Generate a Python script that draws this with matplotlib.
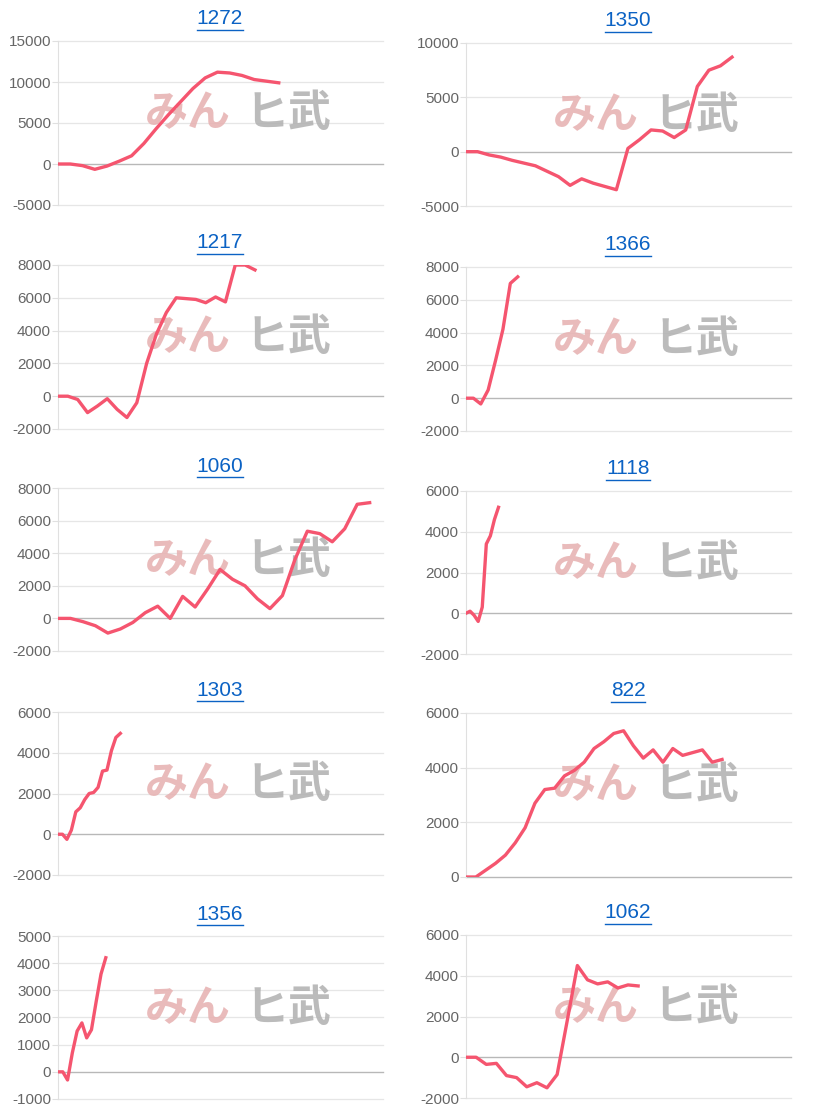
import matplotlib
matplotlib.use("Agg")
import matplotlib.pyplot as plt
from matplotlib.lines import Line2D

plt.rcParams['font.family'] = ['Liberation Sans', 'DejaVu Sans']

titles = ["1272", "1350", "1217", "1366", "1060", "1118", "1303", "822", "1356", "1062"]

v1272 = [0, 0, -200, -650, -250, 350, 1000, 2500, 4300, 6000, 7600, 9200, 10500, 11200, 11100, 10800, 10300, 10100, 9900]
v1350 = [0, 0, -300, -500, -800, -1050, -1300, -1800, -2300, -3100, -2500, -2900, -3200, -3500, 300, 1100, 2000, 1900, 1300, 2000, 6000, 7500, 7900, 8700]
v1217 = [0, 0, -200, -1000, -600, -150, -800, -1300, -400, 2000, 3800, 5100, 6000, 5950, 5900, 5700, 6050, 5750, 8000, 8000, 7700]
v1366 = [0, 0, -350, 500, 2300, 4200, 7000, 7400]
v1060 = [0, 0, -200, -450, -900, -650, -250, 350, 750, 0, 1350, 700, 1800, 3000, 2400, 2000, 1200, 600, 1400, 3600, 5350, 5200, 4700, 5500, 7000, 7100]
v1118 = [0, 100, -100, -400, 300, 3400, 3800, 4600, 5200]
v1303 = [0, 0, -250, 200, 1100, 1300, 1700, 2000, 2050, 2300, 3100, 3150, 4100, 4750, 4950]
v822 = [0, 0, 250, 500, 800, 1250, 1800, 2700, 3200, 3250, 3700, 3900, 4200, 4700, 4950, 5250, 5350, 4800, 4350, 4650, 4200, 4700, 4450, 4550, 4650, 4200, 4300]
v1356 = [0, 0, -300, 700, 1500, 1800, 1250, 1550, 2600, 3600, 4200]
v1062 = [0, 0, -350, -300, -900, -1000, -1450, -1250, -1500, -850, 1800, 4500, 3800, 3600, 3700, 3400, 3550, 3500]

series = [v1272, v1350, v1217, v1366, v1060, v1118, v1303, v822, v1356, v1062]
yticks = [
    [-5000, 0, 5000, 10000, 15000],
    [-5000, 0, 5000, 10000],
    [-2000, 0, 2000, 4000, 6000, 8000],
    [-2000, 0, 2000, 4000, 6000, 8000],
    [-2000, 0, 2000, 4000, 6000, 8000],
    [-2000, 0, 2000, 4000, 6000],
    [-2000, 0, 2000, 4000, 6000],
    [0, 2000, 4000, 6000],
    [-1000, 0, 1000, 2000, 3000, 4000, 5000],
    [-2000, 0, 2000, 4000, 6000],
]
xmax = [26.5, 28.1, 33.0, 44.0, 26.07, 80.0, 73.0, 33.0, 68.0, 32.1]

W, H = 816, 1115
fig = plt.figure(figsize=(W / 100, H / 100), dpi=100)

col_x = [58, 466]
rows = [(41, 205), (265, 429), (488, 651), (712, 875), (936, 1099)]
rows_r = [(43, 206), (267, 431), (491, 654), (713, 877), (935, 1098)]

line_color = '#f5556f'
for i, (t, v) in enumerate(zip(titles, series)):
    r, c = divmod(i, 2)
    top, bot = (rows if c == 0 else rows_r)[r]
    x0 = col_x[c]
    ax = fig.add_axes([x0 / W, 1 - bot / H, 325 / W, (bot - top) / H])
    ax.plot(range(len(v)), v, color=line_color, lw=2.4, solid_joinstyle='round', zorder=3)
    yt = yticks[i]
    ax.set_ylim(yt[0], yt[-1])
    ax.set_xlim(0, xmax[i])
    ax.set_yticks(yt)
    ax.set_yticklabels([str(y) for y in yt], color='#666666', fontsize=11)
    ax.set_xticks([])
    for s in ['top', 'right', 'bottom']:
        ax.spines[s].set_visible(False)
    ax.spines['left'].set_color('#e0e0e0')
    ax.tick_params(axis='y', length=4, color='#e0e0e0', pad=1)
    for y in yt:
        ax.axhline(y, color='#b8b8b8' if y == 0 else '#e6e6e6', lw=1.0 if y == 0 else 0.9, zorder=1, clip_on=False)
    ax.set_facecolor('none')
    # watermark
    ax.text(0.40, 0.56, 'みん', transform=ax.transAxes, ha='center', va='center',
            fontsize=31, fontweight='bold', color='#e6b0b0', alpha=0.85,
            family=['Noto Sans CJK JP'], zorder=2)
    ax.text(0.71, 0.56, 'ヒ武', transform=ax.transAxes, ha='center', va='center',
            fontsize=31, fontweight='bold', color='#b0b0b0', alpha=0.85,
            family=['Noto Sans CJK JP'], zorder=2)
    # title
    cx = (x0 + 162) / W
    ty = 1 - (top - 22) / H
    txt = fig.text(cx, ty, t, ha='center', va='center', fontsize=15, color='#0b62c4')
    fig.canvas.draw()
    bb = txt.get_window_extent()
    uy = (bb.y0 - 1) / H
    fig.add_artist(Line2D([bb.x0 / W, bb.x1 / W], [uy, uy], color='#0b62c4', lw=1.0))

fig.savefig('out.png', dpi=100)
